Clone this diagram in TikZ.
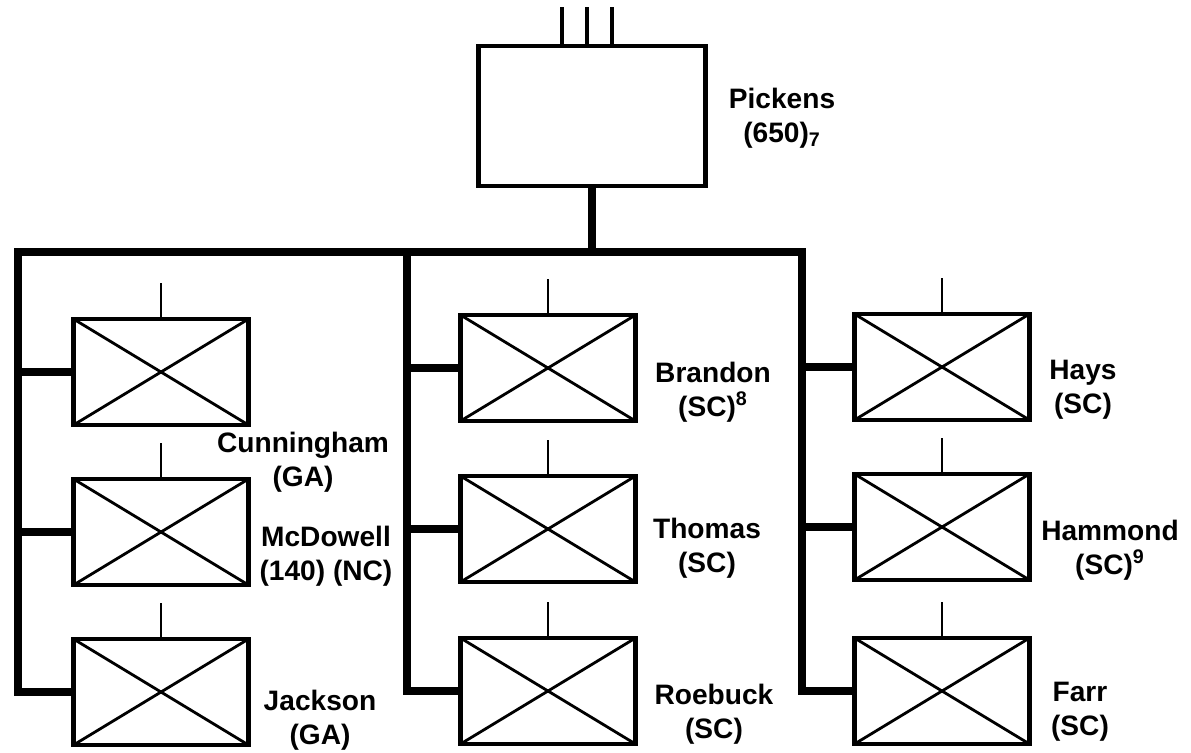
\documentclass[tikz,border=0pt]{standalone}
\usepackage{fontspec}
\setmainfont{Liberation Sans}
\begin{document}
\begin{tikzpicture}[x=0.02cm,y=-0.02cm,
    unit/.style={draw,line width=2.4pt,minimum width=3.5cm,minimum height=2.12cm,inner sep=0pt,
      path picture={\draw[line width=1.6pt] (path picture bounding box.north west)--(path picture bounding box.south east)
        (path picture bounding box.south west)--(path picture bounding box.north east);}},
    hqbox/.style={draw,line width=2.6pt,minimum width=4.55cm,minimum height=2.8cm,inner sep=0pt},
    bus/.style={line width=4.6pt,line join=miter},
    tick/.style={line width=1.6pt},
    lbl/.style={align=center,inner sep=0pt,font=\fontsize{16}{19.5}\selectfont\bfseries}]
    \useasboundingbox (0,0) rectangle (1191,752);
    % regiment at the top
    \node[hqbox] (pic) at (592,116) {};
    \foreach \dx in {-30,-5,20} \draw[line width=2pt] (pic.north) ++(\dx,0) -- ++(0,-37);
    \node[lbl] (picl) at (782,118) {Pickens\\(650)\textsubscript{7}};
    % companies
    \node[unit] (cun) at (161,372) {};
    \node[unit] (mcd) at (161,532) {};
    \node[unit] (jac) at (161,692) {};
    \node[unit] (bra) at (548,368) {};
    \node[unit] (tho) at (548,529) {};
    \node[unit] (roe) at (548,691) {};
    \node[unit] (hay) at (942,367) {};
    \node[unit] (ham) at (942,527) {};
    \node[unit] (far) at (942,691) {};
    \foreach \b in {cun,mcd,jac,bra,tho,roe,hay,ham,far} \draw[tick] (\b.north) -- ++(0,-34);
    \node[lbl] at (303,462) {Cunningham\\(GA)};
    \node[lbl] at (326,556) {McDowell\\(140) (NC)};
    \node[lbl] at (320,720) {Jackson\\(GA)};
    \node[lbl] at (713,392) {Brandon\\(SC)\textsuperscript{8}};
    \node[lbl] at (707,548) {Thomas\\(SC)};
    \node[lbl] at (714,714) {Roebuck\\(SC)};
    \node[lbl] at (1083,390) {Hays\\(SC)};
    \node[lbl] at (1110,550) {Hammond\\(SC)\textsuperscript{9}};
    \node[lbl] at (1080,712) {Farr\\(SC)};
    % lines of command
    \coordinate (j1) at (18,252);
    \coordinate (j2) at (407,252);
    \coordinate (j3) at (802,252);
    \draw[bus] (pic.south) -- (pic.south |- j2);
    \draw[bus] (jac.west) -| (j1) -- (j3) |- (far.west);
    \draw[bus] (j2) |- (roe.west);
    \foreach \b/\j in {cun/j1,mcd/j1,bra/j2,tho/j2,hay/j3,ham/j3} \draw[bus] (\b.west -| \j) -- (\b.west);
\end{tikzpicture}
\end{document}
